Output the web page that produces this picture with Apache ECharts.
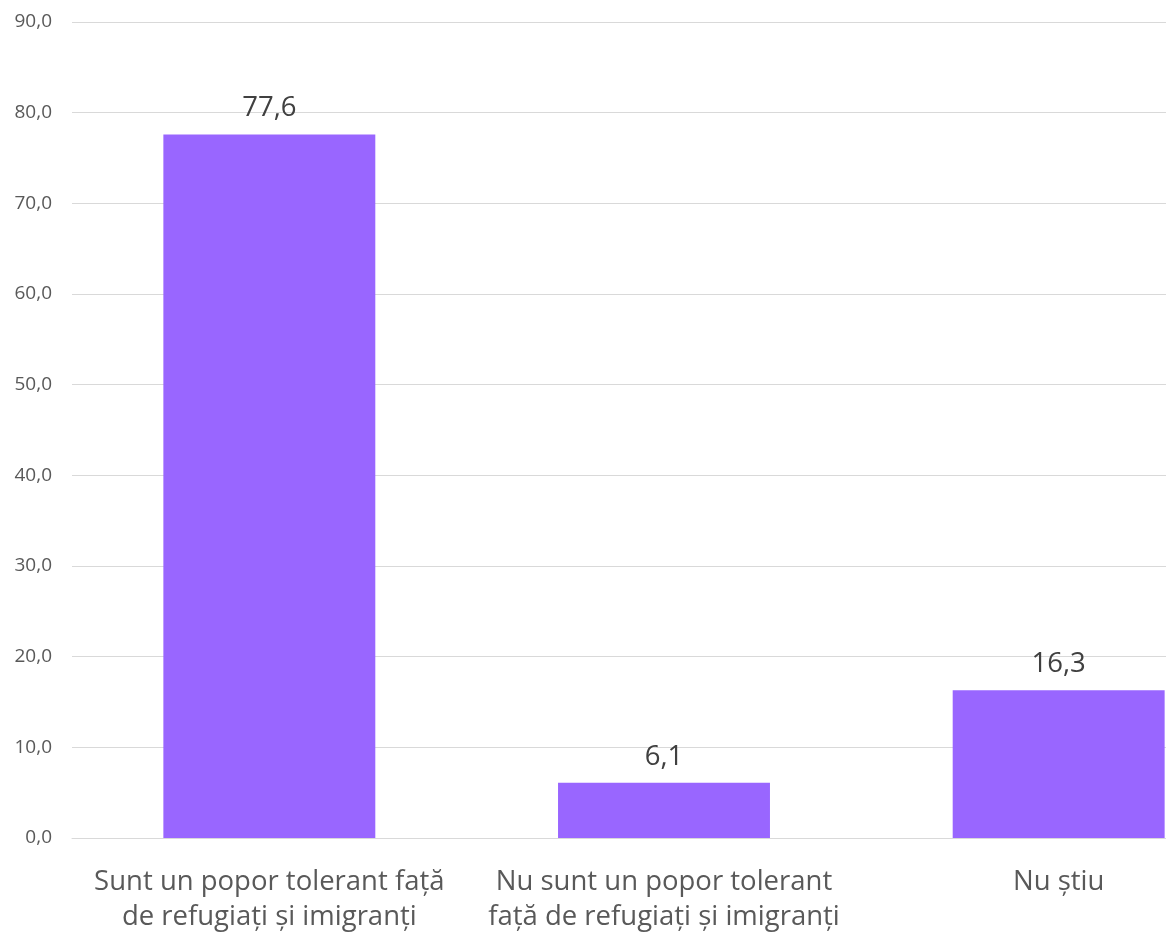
<!DOCTYPE html>
<html>
<head>
<meta charset="utf-8">
<script src="https://cdn.jsdelivr.net/npm/echarts@6/dist/echarts.min.js"></script>
<style>html,body{margin:0;padding:0;background:#fff;overflow:hidden;width:1166px;height:935px}#c{width:1256px;height:935px}</style>
</head>
<body>
<div id="c"></div>
<script>
const categories = [
  "Sunt un popor tolerant față\nde refugiați și imigranți",
  "Nu sunt un popor tolerant\nfață de refugiați și imigranți",
  "Nu știu"
];
const values = [77.6, 6.1, 16.3];
const yMin = 0, yMax = 90, yInterval = 10;

const chart = echarts.init(document.getElementById('c'), null, {renderer: 'canvas'});
const fmt = v => v.toFixed(1).replace('.', ',');
chart.setOption({
  animation: false,
  textStyle: {fontFamily: 'Open Sans'},
  grid: {left: 72, right: 0, top: 22, bottom: 94, containLabel: false},
  xAxis: {
    type: 'category',
    data: categories,
    axisLine: {show: true, lineStyle: {color: '#d9d9d9', width: 1}},
    axisTick: {show: false},
    axisLabel: {color: '#595959', fontSize: 27.5, lineHeight: 35, margin: 27, interval: 0}
  },
  yAxis: {
    type: 'value',
    min: yMin, max: yMax, interval: yInterval,
    axisLine: {show: false},
    axisTick: {show: false},
    splitLine: {lineStyle: {color: '#d9d9d9', width: 1}},
    axisLabel: {color: '#595959', fontSize: 19, margin: 20, formatter: v => fmt(v)}
  },
  series: [{
    type: 'bar',
    data: values,
    barWidth: '53.7%',
    itemStyle: {color: '#9966FF'},
    label: {show: true, position: 'top', distance: 12, color: '#404040', fontSize: 27.5, formatter: p => fmt(p.value)}
  }]
});
</script>
</body>
</html>
